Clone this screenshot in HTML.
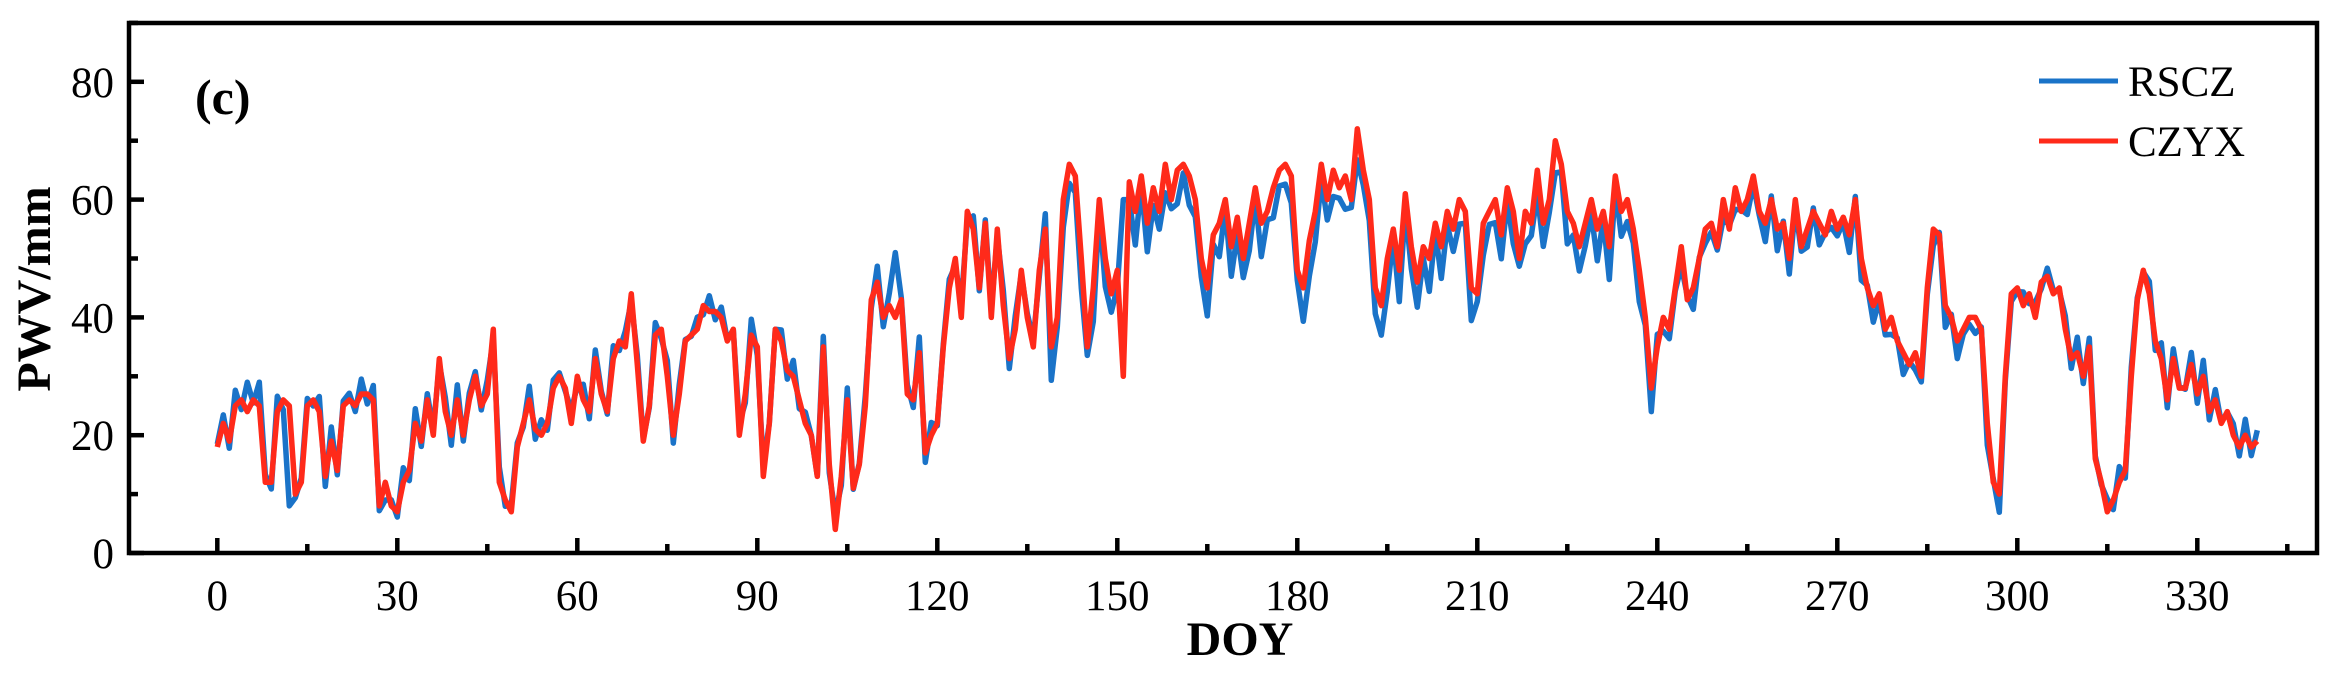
<!DOCTYPE html>
<html><head><meta charset="utf-8"><style>
html,body{margin:0;padding:0;background:#fff;}
svg{display:block;}
text{font-family:"Liberation Serif",serif;fill:#000;}
</style></head><body>
<svg id="s" width="2335" height="674" viewBox="0 0 2335 674" xmlns="http://www.w3.org/2000/svg">
<g id="series"></g>
<rect x="129" y="23" width="2188" height="530" fill="none" stroke="#000" stroke-width="4.5"/>
<g id="ticks" stroke="#000" stroke-width="4.5"></g>
<g id="labels" font-size="43"></g>
<text x="195" y="114" font-size="50" font-weight="bold">(c)</text>
<text transform="translate(50,289) rotate(-90)" text-anchor="middle" font-size="48" font-weight="bold">PWV/mm</text>
<text x="1240" y="655" text-anchor="middle" font-size="48" font-weight="bold">DOY</text>
<line x1="2039" y1="81" x2="2118" y2="81" stroke="#1a73c8" stroke-width="5"/>
<line x1="2039" y1="141" x2="2118" y2="141" stroke="#ff2a1a" stroke-width="5"/>
<text x="2128" y="96" font-size="43">RSCZ</text>
<text x="2128" y="156" font-size="43">CZYX</text>
</svg>
<script>
var R=[18,22,19,25,26,24,26,25,12,12,24,26,25,10,12,25,26,24,13,19,14,25,26,25,27,27,26,8,12,8,7,12,14,22,19,26,20,33,24,20,26,20,26,30,25,27,38,12,9,7,18,22,26,21,20,22,28,30,28,22,30,26,24,33,27,24,33,36,35,44,32,19,25,37,38,30,20,27,36,37,38,42,41,41,40,36,38,20,27,37,35,13,22,38,36,31,30,26,22,20,13,35,15,4,13,26,11,15,25,43,46,40,42,40,43,27,26,34,17,20,22,35,45,50,40,58,55,45,56,40,55,42,33,38,48,40,35,48,55,35,40,60,66,64,50,35,45,60,50,44,48,30,63,58,64,56,62,58,66,60,65,66,64,60,50,45,54,56,60,52,57,50,56,62,56,58,62,65,66,64,48,45,53,58,66,60,65,62,64,60,72,65,60,45,42,50,55,48,61,52,46,52,50,56,52,58,55,60,58,45,44,56,58,60,54,62,58,50,58,56,65,56,60,70,66,58,56,52,56,60,55,58,52,64,58,60,55,48,40,28,35,40,38,45,52,43,45,50,55,56,52,60,55,62,58,60,64,58,56,60,55,56,50,60,52,55,58,56,54,58,55,57,54,60,50,45,42,44,38,40,36,34,32,34,30,45,55,54,42,40,36,38,40,40,38,22,12,10,30,44,45,42,44,40,46,47,44,45,38,33,34,30,35,16,12,7,9,12,14,30,43,48,44,36,33,26,33,28,28,32,27,30,24,26,22,24,20,18,20,18,19];
function X(d){return 217.3+6*d;}function Y(v){return 553-5.89*v;}
var B=R.map(function(v,i){var off=(i>138&&i<240)?-3.5:(i>240&&i<300?-1.5:0.5);var n=Math.sin(i*2.7)*2.2;return v+off+n;});
var sp={12:8,113:51,151:60,152:60,182:47,194:37,239:24,28:9,5:29,7:29};for(var k in sp)B[k]=sp[k];
function path(a){return a.map(function(v,i){return(i?'L':'M')+X(i).toFixed(1)+' '+Y(v).toFixed(1);}).join('');}
var g=document.getElementById('series');
g.innerHTML='<path d="'+path(B)+'" fill="none" stroke="#1a73c8" stroke-width="5.5" stroke-linejoin="round"/>'+
'<path d="'+path(R)+'" fill="none" stroke="#ff2a1a" stroke-width="5.5" stroke-linejoin="round"/>';
var t='',l='';
for(var v=0;v<=90;v+=10){var y=Y(v);var maj=v%20==0;t+='<line x1="129" y1="'+y+'" x2="'+(129+(maj?15:9))+'" y2="'+y+'"/>';if(maj)l+='<text x="114" y="'+(y+15)+'" text-anchor="end">'+v+'</text>';}
for(var d=-15;d<=345;d+=15){var x=X(d);if(x<131)continue;var maj=d%30==0;t+='<line x1="'+x+'" y1="553" x2="'+x+'" y2="'+(553-(maj?15:9))+'"/>';if(maj)l+='<text x="'+x+'" y="610" text-anchor="middle">'+d+'</text>';}
document.getElementById('ticks').innerHTML=t;document.getElementById('labels').innerHTML=l;
</script>
</body></html>
